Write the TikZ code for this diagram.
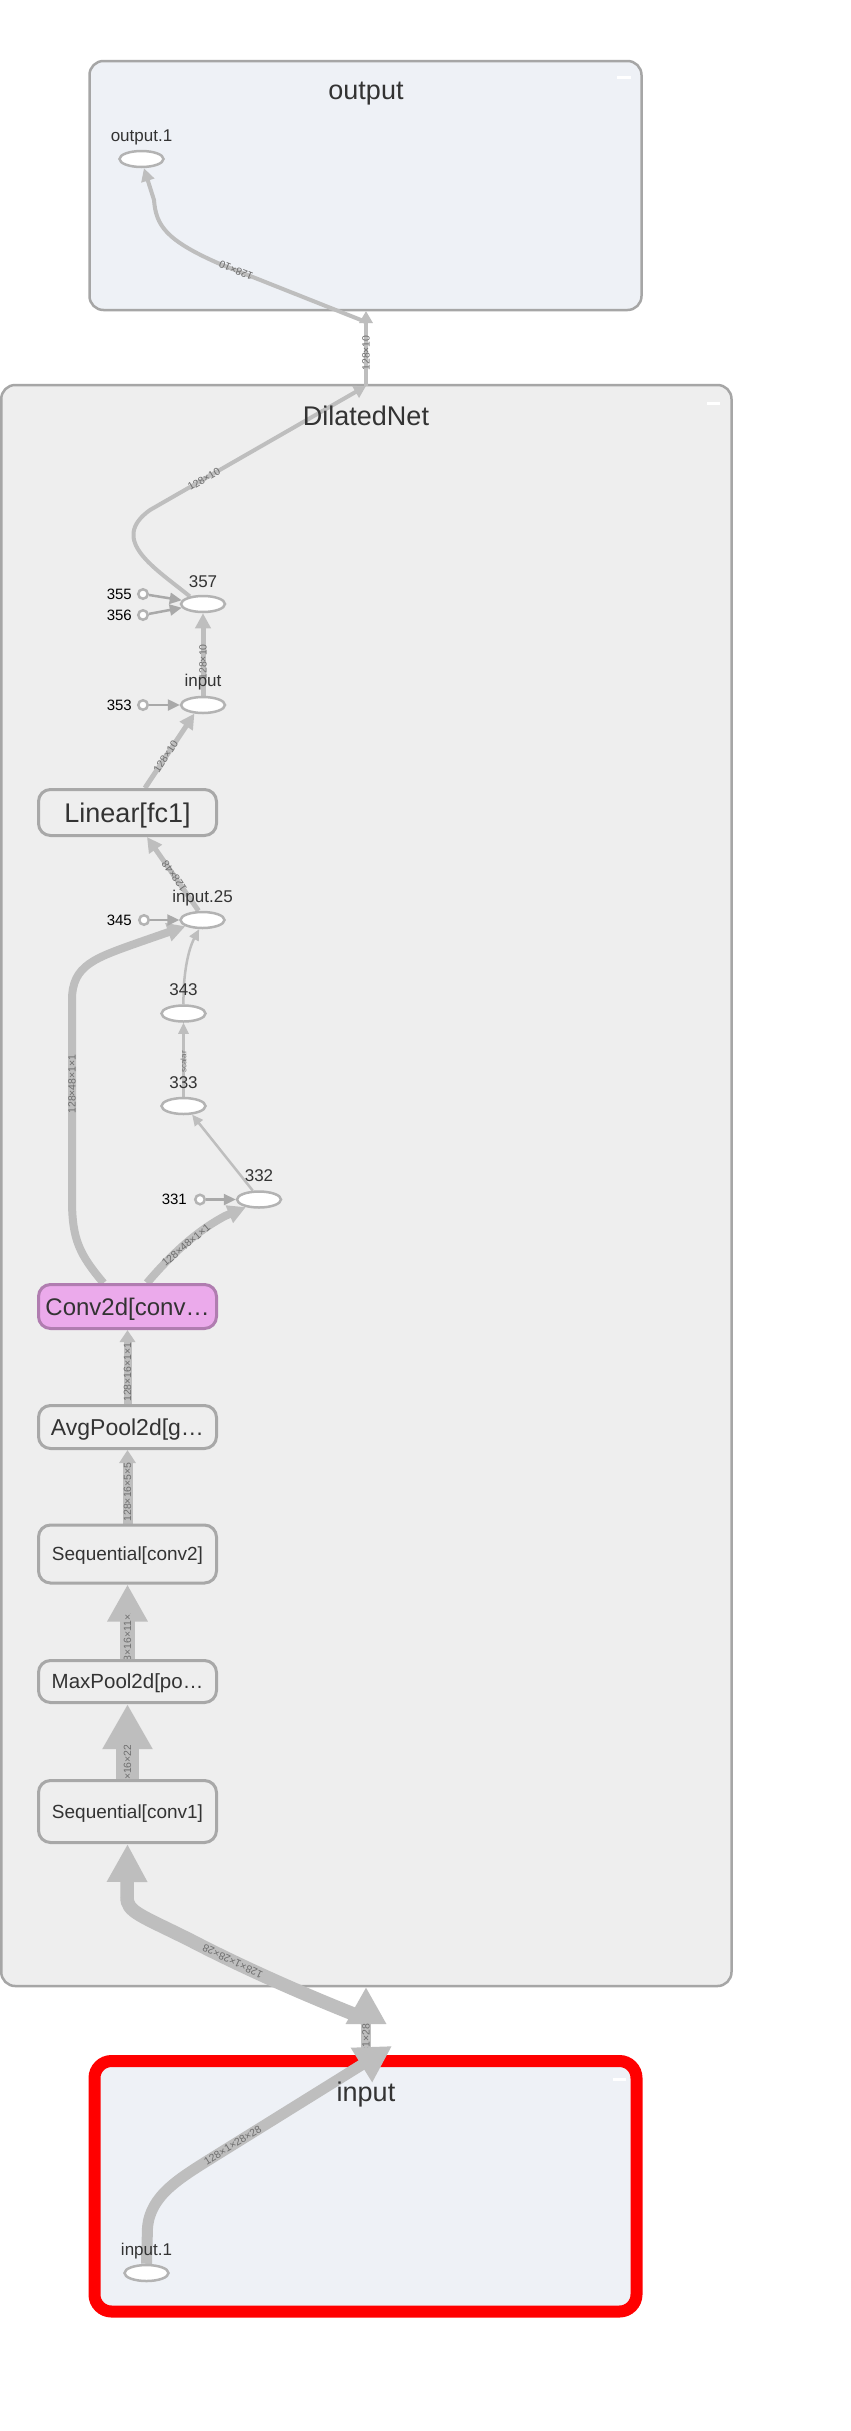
\documentclass[tikz,border=0pt]{standalone}
\usepackage{fontspec}
\setmainfont{Liberation Sans}
\usetikzlibrary{arrows.meta,shapes.geometric}
\definecolor{grpbg}{HTML}{EEEEEE}
\definecolor{grpblue}{HTML}{EEF1F6}
\definecolor{grpline}{HTML}{A6A6A6}
\definecolor{edgec}{HTML}{BEBEBE}
\definecolor{constc}{HTML}{A9A9A9}
\definecolor{ellc}{HTML}{B3B3B3}
\definecolor{boxline}{HTML}{A8A8A8}
\definecolor{txt}{HTML}{333333}
\definecolor{elabc}{HTML}{6E6E6E}
\definecolor{convfill}{HTML}{EBAAEB}
\definecolor{convline}{HTML}{B07DB0}
\pgfdeclarelayer{groups}
\pgfdeclarelayer{edges}
\pgfdeclarelayer{elabels}
\pgfsetlayers{groups,edges,elabels,main}
\begin{document}
\begin{tikzpicture}[x=1pt,y=-1pt,
  opbox/.style 2 args={rectangle, rounded corners=12pt, draw=boxline, fill=grpbg,
    line width=3pt, minimum width=178pt, inner sep=0pt, text=txt,
    font=\fontsize{#1pt}{#1pt}\selectfont, text height=#2pt, text depth=0pt},
  opell/.style={ellipse, draw=ellc, fill=white, line width=2.5pt,
    minimum width=44pt, minimum height=16pt, inner sep=0pt},
  cnode/.style={circle, draw=ellc, fill=white, line width=2.5pt,
    minimum size=9.5pt, inner sep=0pt},
  oplab/.style={text=txt, font=\fontsize{17pt}{17pt}\selectfont, inner sep=0pt, anchor=base},
  clab/.style={text=black, font=\fontsize{15pt}{15pt}\selectfont, inner sep=0pt, anchor=east},
  gtitle/.style={text=txt, font=\fontsize{27pt}{27pt}\selectfont, inner sep=0pt, anchor=base},
  flow/.style={draw=edgec},
  cflow/.style={draw=constc, line width=2.5pt},
  tipab/.style 2 args={>={Triangle[length=#1pt,width=#2pt]}, ->},
  elab/.style={text=elabc, font=\fontsize{10.5pt}{10.5pt}\selectfont, inner sep=0pt},
  sl/.style={sloped, allow upside down},
  minus/.style={draw=white, line width=3pt}
]
\useasboundingbox (0,0) rectangle (851,2431);

% ---------- groups ----------
\begin{pgfonlayer}{groups}
\fill[white] (0,0) rectangle (851,2431);
\draw[grpline, fill=grpblue, line width=2.5pt, rounded corners=14pt] (89.5,61) rectangle (641.5,310);
\draw[grpline, fill=grpbg, line width=2.5pt, rounded corners=14pt] (1.25,385) rectangle (731.5,1986);
\draw[red, fill=grpblue, line width=12pt, rounded corners=17pt] (94.5,2061) rectangle (636.5,2311.5);
\draw[minus] (617,77) -- (631,77);
\draw[minus] (707,403) -- (720,403);
\draw[minus] (613,2079) -- (626,2079);
\end{pgfonlayer}

% ---------- group titles ----------
\node[gtitle] (toutput) at (366,99) {output};
\node[gtitle] (tdilated) at (366,425) {DilatedNet};
\node[gtitle] (tinput) at (366,2101) {input};

% ---------- op nodes ----------
\node[opell] (o1) at (141.5,159) {};
\node[opell] (n357) at (203,604) {};
\node[opell] (ninput) at (203,705) {};
\node[opell] (n25) at (202.5,920) {};
\node[opell] (n343) at (183.5,1013.5) {};
\node[opell] (n333) at (183.5,1106) {};
\node[opell] (n332) at (259,1199.5) {};
\node[opell] (i1) at (146.5,2273) {};

\node[cnode] (c355) at (143,594) {};
\node[cnode] (c356) at (143,615) {};
\node[cnode] (c353) at (143,705) {};
\node[cnode] (c345) at (144,920) {};
\node[cnode] (c331) at (200,1199.5) {};

\node[opbox={27}{19.3}, minimum height=46pt] (linear) at (127.5,812.5) {Linear[fc1]};
\node[opbox={24}{17.2}, minimum height=44pt, fill=convfill, draw=convline] (conv) at (127.5,1306.5) {Conv2d[conv…};
\node[opbox={23}{16.5}, minimum height=43pt] (avg) at (127.5,1427) {AvgPool2d[g…};
\node[opbox={19}{13.6}, minimum height=58pt] (seq2) at (127.5,1554) {Sequential[conv2]};
\node[opbox={20.5}{14.7}, minimum height=42pt] (maxp) at (127.5,1681.5) {MaxPool2d[po…};
\node[opbox={19}{13.6}, minimum height=62pt] (seq1) at (127.5,1811.5) {Sequential[conv1]};

% ---------- node labels ----------
\node[oplab] (to1) at (141.5,141) {output.1};
\node[oplab] (t357) at (203,587) {357};
\node[oplab] (tin) at (203,686) {input};
\node[oplab] (t25) at (202.5,902) {input.25};
\node[oplab] (t343) at (183.5,995) {343};
\node[oplab] (t333) at (183.5,1088) {333};
\node[oplab] (t332) at (259,1181) {332};
\node[oplab] (ti1) at (146.5,2255) {input.1};
\node[clab] (t355) at (132,594) {355};
\node[clab] (t356) at (132,615) {356};
\node[clab] (t353) at (132,705) {353};
\node[clab] (t345) at (132,920) {345};
\node[clab] (t331) at (187,1199.5) {331};

% ---------- connector end points on group borders ----------
\coordinate (dtop) at (366,386);
\coordinate (obot) at (366,311);
\coordinate (obin) at (366,322);
\coordinate (dbot) at (366,1987);
\coordinate (itop) at (366,2058);
\coordinate (dbin) at (366,2019);
\coordinate (itin) at (392,2046);

% ---------- edges ----------
\begin{pgfonlayer}{edges}
% output group
\draw[flow, line width=4pt, tipab={13}{13}] (obin) -- (220,264)
  node[elab, sl, pos=0.89] (l3) {128×10}
  .. controls (165,240) and (156,225) .. (154,200) -- (o1.-75);
\draw[flow, line width=4pt, tipab={12}{13}] (dtop) -- (obot)
  node[elab, sl, pos=0.44] (l2) {128×10};
% DilatedNet top part
\draw[flow, line width=4pt, tipab={12}{13}] (n357.150) .. controls (155,568) and (108,540) .. (150,510) -- (dtop)
  node[elab, sl, pos=0.25] (l1) {128×10};
\draw[flow, line width=5pt, tipab={15}{15}] (ninput.north) -- (n357.south)
  node[elab, sl, pos=0.41] (l4) {128×10};
\draw[flow, line width=5pt, tipab={15}{15}] ([xshift=17.5pt]linear.north) -- (ninput.225)
  node[elab, sl, pos=0.42] (l5) {128×10};
\draw[flow, line width=5pt, tipab={15}{15}] ([xshift=-4pt]n25.north) -- ([xshift=19.5pt]linear.south)
  node[elab, sl, pos=0.47] (l6) {128×48};
\draw[flow, line width=8pt, tipab={18}{18}] ([xshift=-24pt]conv.north) .. controls (80,1255) and (72,1240) .. (72,1200)
  -- (72,1000) node[elab, sl, pos=0.58] (l7) {128×48×1×1}
  .. controls (72,965) and (95,958) .. (140,942) -- (n25.200);
\draw[flow, line width=8pt, tipab={18}{18}] ([xshift=19.5pt]conv.north) .. controls (170,1256) and (195,1232) .. (225,1216) -- (n332.210);
\node[elab, rotate=40] (l8) at (186,1245) {128×48×1×1};
\draw[flow, line width=2.5pt, tipab={11}{10}] (n343.north) .. controls (183,975) and (188,950) .. (n25.250);
\draw[flow, line width=2.5pt, tipab={11}{10}] (n333.north) -- (n343.south)
  node[elab, sl, pos=0.47, font=\fontsize{8pt}{8pt}\selectfont] (l10) {scalar};
\draw[flow, line width=2.5pt, tipab={11}{10}] (n332.125) -- (n333.-45);
\draw[cflow, tipab={12}{11}] (c355) -- (n357.170);
\draw[cflow, tipab={12}{11}] (c356) -- (n357.190);
\draw[cflow, tipab={12}{11}] (c353) -- (ninput.west);
\draw[cflow, tipab={12}{11}] (c345) -- (n25.west);
\draw[cflow, tipab={12}{11}] (c331) -- (n332.west);
% DilatedNet lower chain
\draw[flow, line width=8pt, tipab={12}{15}] (avg.north) -- (conv.south)
  node[elab, sl, pos=0.43] (l17) {128×16×1×1};
\draw[flow, line width=10pt, tipab={13}{16}] (seq2.north) -- (avg.south)
  node[elab, sl, pos=0.43] (l18) {128×16×5×5};
\draw[flow, line width=15pt, tipab={37}{38}] (maxp.north) -- (seq2.south);
\draw[flow, line width=23pt, tipab={45}{47}] (seq1.north) -- (maxp.south);
% input to DilatedNet
\draw[flow, line width=13.5pt, tipab={38}{38}] (dbin) .. controls (300,1993) and (240,1966) .. (190,1940)
  node[elab, sl, pos=0.73] (l21) {128×1×28×28}
  .. controls (140,1915) and (127,1912) .. (127,1897) -- (seq1.south);
\draw[flow, line width=10.5pt, tipab={37}{38}] (itop) -- (dbot);
\draw[flow, line width=11pt, tipab={36}{38}] (i1.north) -- (147.5,2228) .. controls (150,2195) and (180,2178) .. (215,2156)
  -- (itin) node[elab, sl, pos=0.1] (l23) {128×1×28×28};
\end{pgfonlayer}

% ---------- labels partly hidden under arrow tips ----------
\begin{pgfonlayer}{elabels}
\begin{scope}
\clip (110,1613) rectangle (145,1660);
\node[elab, rotate=90] (l19) at (127.5,1638) {128×16×11×11};
\end{scope}
\begin{scope}
\clip (110,1745) rectangle (145,1780);
\node[elab, rotate=90] (l20) at (127.5,1762) {128×16×22×22};
\end{scope}
\begin{scope}
\clip (350,2023) rectangle (382,2047);
\node[elab, rotate=90] (l22) at (366,2038.5) {128×1×28×28};
\end{scope}
\end{pgfonlayer}
\end{tikzpicture}
\end{document}
